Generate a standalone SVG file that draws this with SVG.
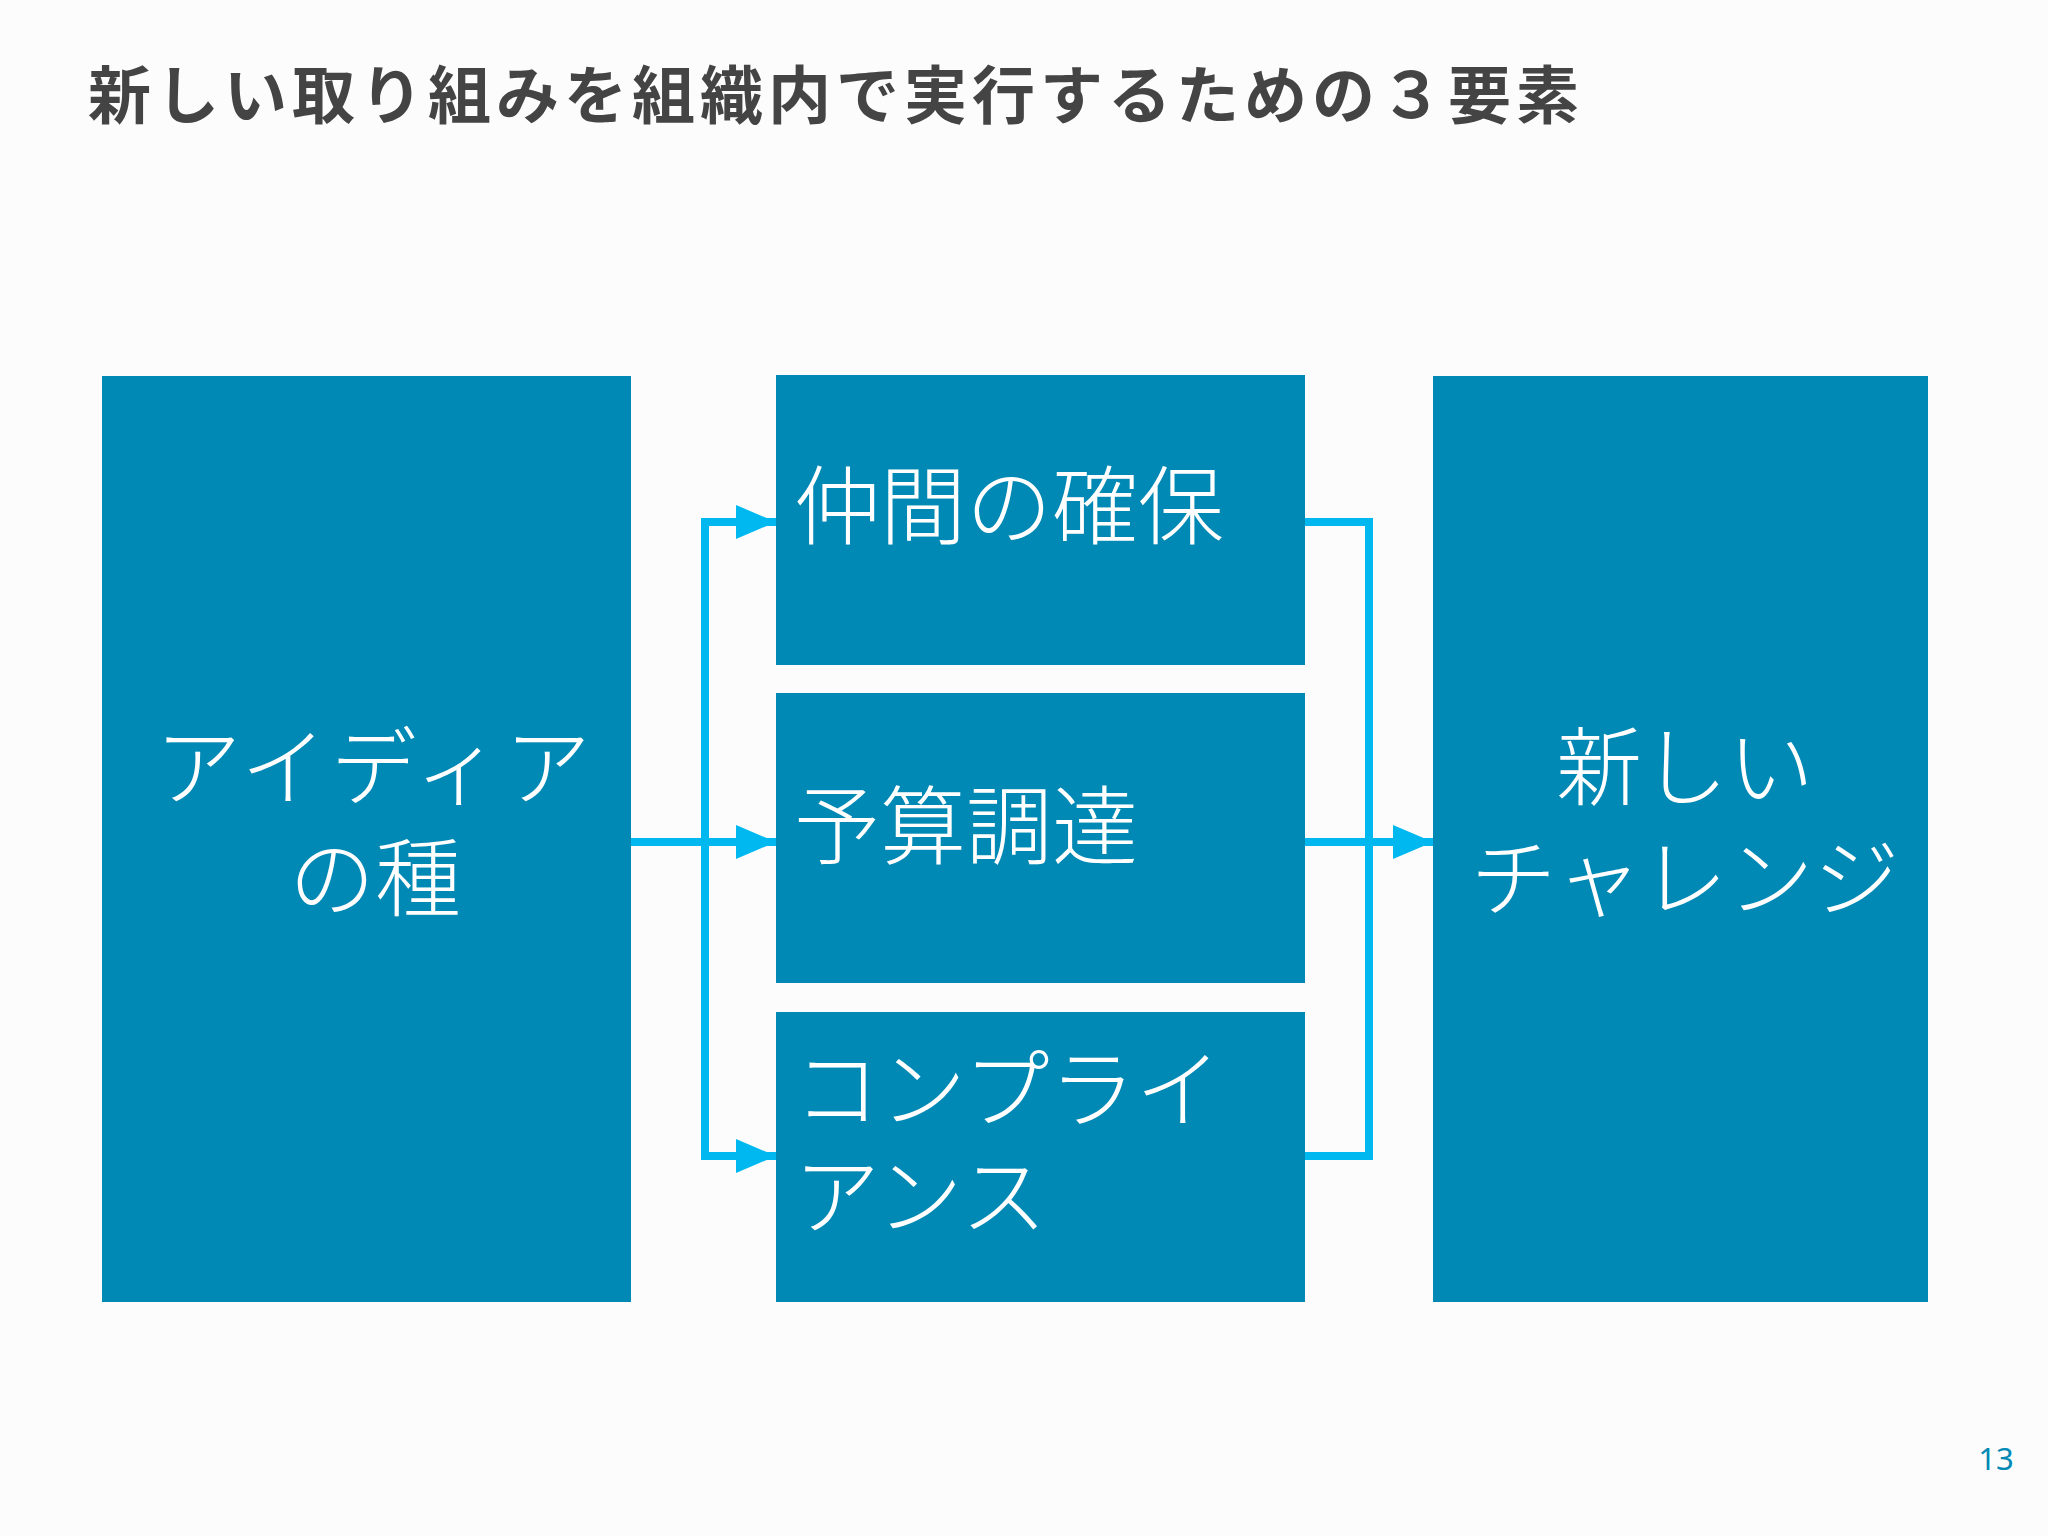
<svg xmlns="http://www.w3.org/2000/svg" width="2048" height="1536" viewBox="0 0 2048 1536">
<defs>
<style>
.box{fill:#0089b4}
.t{font-family:"Noto Sans CJK JP","Noto Sans",sans-serif;fill:#fff;font-size:86px;font-weight:300}
.c{fill:none;stroke:#00b8f0;stroke-width:8}
</style>
<marker id="ah" markerWidth="40" markerHeight="34" refX="40" refY="17" orient="auto" markerUnits="userSpaceOnUse"><path d="M0,0 L40,17 L0,34 Z" fill="#00b8f0"/></marker>
</defs>
<rect width="2048" height="1536" fill="#fcfcfd"/>
<text x="88" y="118" font-family="Noto Sans CJK JP,sans-serif" font-size="63" font-weight="bold" letter-spacing="5" fill="#444">新しい取り組みを組織内で実行するための３要素</text>
<g id="n1"><rect class="box" x="102" y="376" width="529" height="926"/><text class="t" x="375" y="799" text-anchor="middle" letter-spacing="4">アイディア</text><text class="t" x="375" y="910" text-anchor="middle">の種</text></g>
<g id="n2"><rect class="box" x="776" y="375" width="529" height="290"/><text class="t" x="794" y="538">仲間の確保</text></g>
<g id="n3"><rect class="box" x="776" y="693" width="529" height="290"/><text class="t" x="794" y="858">予算調達</text></g>
<g id="n4"><rect class="box" x="776" y="1012" width="529" height="290"/><text class="t" x="794" y="1121">コンプライ</text><text class="t" x="794" y="1228">アンス</text></g>
<g id="n5"><rect class="box" x="1433" y="376" width="495" height="926"/><text class="t" x="1685" y="799" text-anchor="middle">新しい</text><text class="t" x="1685" y="910" text-anchor="middle">チャレンジ</text></g>
<g id="connectors">
<path class="c" d="M631,842 H776" marker-end="url(#ah)"/>
<path class="c" d="M776,522 H705 V1156 H776" />
<path class="c" d="M705,522 H776" marker-end="url(#ah)"/>
<path class="c" d="M705,1156 H776" marker-end="url(#ah)"/>
<path class="c" d="M1305,522 H1369 V1156 H1305"/>
<path class="c" d="M1305,842 H1433" marker-end="url(#ah)"/>
</g>
<text x="1996" y="1470" font-family="Noto Sans,sans-serif" font-size="31" fill="#0089b4" text-anchor="middle">13</text>
</svg>
